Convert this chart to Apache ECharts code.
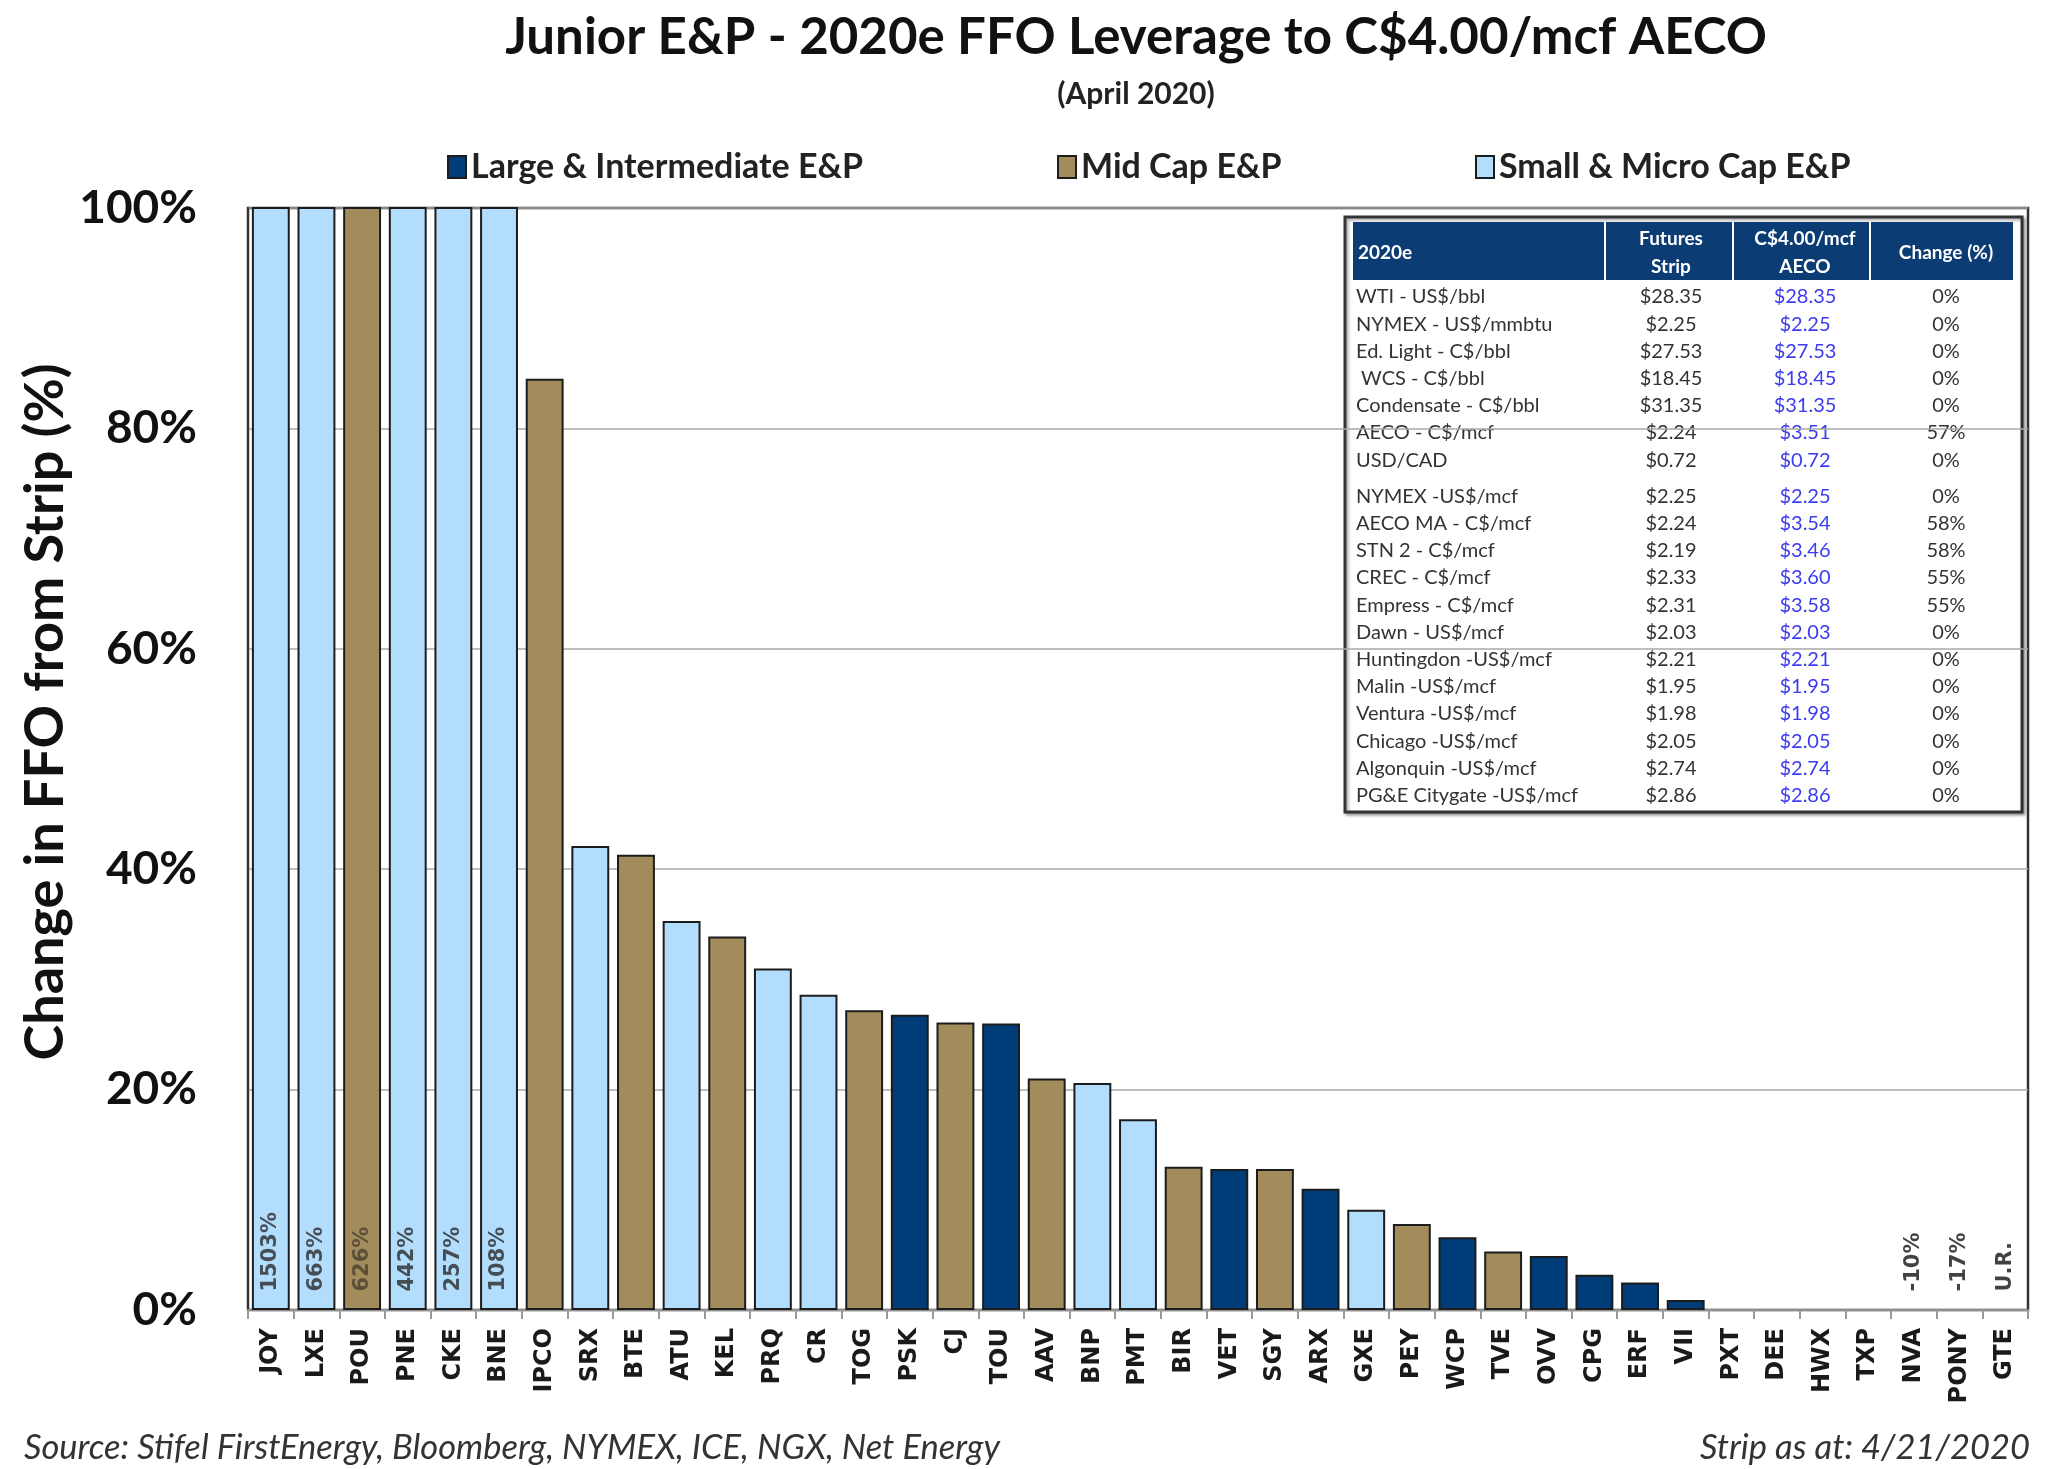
<!DOCTYPE html>
<html><head><meta charset="utf-8">
<script src="https://cdn.jsdelivr.net/npm/echarts@6/dist/echarts.min.js"></script>
<style>html,body{margin:0;padding:0;background:#fff}#c{width:2048px;height:1469px}</style>
</head><body><div id="c"></div>
<script>
// ---------- data ----------
const categories = ['JOY','LXE','POU','PNE','CKE','BNE','IPCO','SRX','BTE','ATU','KEL','PRQ','CR','TOG','PSK','CJ','TOU','AAV','BNP','PMT','BIR','VET','SGY','ARX','GXE','PEY','WCP','TVE','OVV','CPG','ERF','VII','PXT','DEE','HWX','TXP','NVA','PONY','GTE'];
const ffoChange = [1503,663,626,442,257,108,84.5,42.1,41.3,35.3,33.9,31.0,28.6,27.2,26.8,26.1,26.0,21.0,20.6,17.3,13.0,12.8,12.8,11.0,9.1,7.8,6.6,5.3,4.9,3.2,2.5,0.9,0,0,0,0,-10,-17,null];
const capGroup = ['S','S','M','S','S','S','M','S','M','S','M','S','S','M','L','M','L','M','S','S','M','L','M','L','S','M','L','M','L','L','L','L',null,null,null,null,null,null,null];
const groupKeys = ['L','M','S'];
const groupNames = {L:'Large & Intermediate E&P', M:'Mid Cap E&P', S:'Small & Micro Cap E&P'};
const yMin = 0, yMax = 100, yInterval = 20;

const tableHeader = ['2020e','Futures\nStrip','C$4.00/mcf\nAECO','Change (%)'];
const tableLabels = ['WTI - US$/bbl','NYMEX - US$/mmbtu','Ed. Light - C$/bbl',' WCS - C$/bbl','Condensate - C$/bbl','AECO - C$/mcf','USD/CAD','NYMEX -US$/mcf','AECO MA - C$/mcf','STN 2 - C$/mcf','CREC - C$/mcf','Empress - C$/mcf','Dawn - US$/mcf','Huntingdon -US$/mcf','Malin -US$/mcf','Ventura -US$/mcf','Chicago -US$/mcf','Algonquin -US$/mcf','PG&E Citygate -US$/mcf'];
const tableStrip = ['$28.35','$2.25','$27.53','$18.45','$31.35','$2.24','$0.72','$2.25','$2.24','$2.19','$2.33','$2.31','$2.03','$2.21','$1.95','$1.98','$2.05','$2.74','$2.86'];
const tableAeco = ['$28.35','$2.25','$27.53','$18.45','$31.35','$3.51','$0.72','$2.25','$3.54','$3.46','$3.60','$3.58','$2.03','$2.21','$1.95','$1.98','$2.05','$2.74','$2.86'];
const tableChange = ['0%','0%','0%','0%','0%','57%','0%','0%','58%','58%','55%','55%','0%','0%','0%','0%','0%','0%','0%'];

const titleText = 'Junior E&P - 2020e FFO Leverage to C$4.00/mcf AECO';
const subtitleText = '(April 2020)';
const yAxisTitle = 'Change in FFO from Strip (%)';
const sourceText = 'Source: Stifel FirstEnergy, Bloomberg, NYMEX, ICE, NGX, Net Energy';
const stripText = 'Strip as at: 4/21/2020';

// ---------- styles ----------
const groupColors = {L:'#003d78', M:'#a38c5c', S:'#b3ddfd'};
const groupLabelColors = {L:'#ffffff', M:'#4a4030', S:'#2a2a2a'};
const sans = 'Lato';

const barSeries = groupKeys.map(g => ({
  name: groupNames[g], type: 'bar', barGap: '-100%', barCategoryGap: '17%',
  clip: true,
  data: ffoChange.map((v, i) => capGroup[i] === g ? v : '-'),
  itemStyle: {color: groupColors[g], borderColor: '#1c1c1c', borderWidth: 2},
  emphasis: {disabled: true}
}));

const noteData = [];
ffoChange.forEach((v, i) => {
  if (v === null || v > yMax || v < yMin) {
    noteData.push({value: [i, 0], label: {color: capGroup[i] ? groupLabelColors[capGroup[i]] : '#111'}});
  }
});
const noteSeries = {
  type: 'scatter', symbolSize: 1, clip: false, z: 5,
  itemStyle: {color: 'rgba(0,0,0,0)'},
  data: noteData,
  label: {
    show: true, position: 'top', distance: 18, rotate: 90, align: 'left', verticalAlign: 'middle',
    fontFamily: 'DejaVu Sans', fontWeight: 'bold', fontSize: 21,
    formatter: p => { const v = ffoChange[p.value[0]]; return v === null ? 'U.R.' : v + '%'; }
  },
  emphasis: {disabled: true}, silent: true
};

// table graphic
const tX = 1345, tY = 217, tW = 677, tH = 595;
const colSep = [1605, 1733, 1870];
const colCenter = [null, 1671, 1805, 1946];
const tableEls = [
  {type: 'rect', shape: {x: tX, y: tY, width: tW, height: tH}, style: {fill: '#fff', stroke: '#333', lineWidth: 3, shadowBlur: 3, shadowColor: 'rgba(0,0,0,0.35)', shadowOffsetX: 2, shadowOffsetY: 2}},
  {type: 'rect', shape: {x: 1353, y: 222, width: 660, height: 58}, style: {fill: '#0b3d74'}}
];
colSep.forEach(x => tableEls.push({type: 'line', shape: {x1: x, y1: 222, x2: x, y2: 280}, style: {stroke: '#ffffff', lineWidth: 2}}));
tableEls.push({type: 'text', x: 1358, y: 253, style: {text: tableHeader[0], fill: '#fff', fontFamily: sans, fontWeight: 'bold', fontSize: 19, align: 'left', verticalAlign: 'middle'}});
[1, 2, 3].forEach(c => tableEls.push({type: 'text', x: colCenter[c], y: 253, style: {text: tableHeader[c], fill: '#fff', fontFamily: sans, fontWeight: 'bold', fontSize: 19, lineHeight: 28, align: 'center', verticalAlign: 'middle'}}));
tableLabels.forEach((lab, i) => {
  const y = 297 + i * 27.2 + (i >= 7 ? 9 : 0);
  const base = {fontFamily: sans, fontSize: 20, verticalAlign: 'middle'};
  tableEls.push({type: 'text', x: 1356, y, style: Object.assign({text: lab, fill: '#333', align: 'left'}, base)});
  tableEls.push({type: 'text', x: colCenter[1], y, style: Object.assign({text: tableStrip[i], fill: '#333', align: 'center'}, base)});
  tableEls.push({type: 'text', x: colCenter[2], y, style: Object.assign({text: tableAeco[i], fill: '#3b3bf2', align: 'center'}, base)});
  tableEls.push({type: 'text', x: colCenter[3], y, style: Object.assign({text: tableChange[i], fill: '#333', align: 'center'}, base)});
});

const legendBase = {orient: 'horizontal', top: 150, padding: 0, itemWidth: 18, itemHeight: 22, itemGap: 10,
  icon: 'rect', textStyle: {fontFamily: sans, fontWeight: 'bold', fontSize: 34, color: '#222'}, selectedMode: false};

const option = {
  animation: false,
  backgroundColor: '#fff',
  grid: {left: 248, right: 20, top: 208, bottom: 159, show: true, borderColor: '#333', borderWidth: 2.5, containLabel: false},
  legend: [
    Object.assign({left: 447, data: [groupNames.L]}, legendBase),
    Object.assign({left: 1057, data: [groupNames.M]}, legendBase),
    Object.assign({left: 1475, data: [groupNames.S]}, legendBase)
  ],
  xAxis: {
    type: 'category', data: categories,
    axisLine: {show: true, lineStyle: {color: '#8f8f8f', width: 2}},
    axisTick: {show: true, alignWithLabel: false, length: 9, lineStyle: {color: '#9a9a9a', width: 2}},
    axisLabel: {interval: 0, rotate: 90, margin: 18, fontFamily: 'DejaVu Sans', fontWeight: 'bold', fontSize: 24, color: '#1a1a1a'},
    splitLine: {show: false}
  },
  yAxis: {
    type: 'value', min: yMin, max: yMax, interval: yInterval,
    axisLine: {show: true, lineStyle: {color: '#333', width: 2}},
    axisTick: {show: false},
    axisLabel: {formatter: '{value}%', fontFamily: sans, fontWeight: 'bold', fontSize: 46, color: '#111', margin: 51},
    splitLine: {show: true, lineStyle: {color: '#a8a8a8', width: 1.5}}
  },
  series: barSeries.concat([noteSeries]),
  graphic: [
    {type: 'text', x: 1136, y: 38, z: 10, style: {text: titleText, fontFamily: sans, fontWeight: 'bold', fontSize: 51, fill: '#111', align: 'center', verticalAlign: 'middle'}},
    {type: 'text', x: 1136, y: 94, z: 10, style: {text: subtitleText, fontFamily: sans, fontWeight: 'bold', fontSize: 30, fill: '#222', align: 'center', verticalAlign: 'middle'}},
    {type: 'text', x: 46, y: 712, rotation: Math.PI / 2, z: 10, style: {text: yAxisTitle, fontFamily: sans, fontWeight: 'bold', fontSize: 54, fill: '#111', align: 'center', verticalAlign: 'middle'}},
    {type: 'text', x: 24, y: 1448, z: 10, style: {text: sourceText, fontFamily: sans, fontStyle: 'italic', fontSize: 34.5, fill: '#333', align: 'left', verticalAlign: 'middle'}},
    {type: 'text', x: 2030, y: 1448, z: 10, style: {text: stripText, fontFamily: sans, fontStyle: 'italic', fontSize: 34.5, fill: '#333', align: 'right', verticalAlign: 'middle'}},
    {type: 'group', z: 100, children: tableEls}
  ]
};
const chart = echarts.init(document.getElementById('c'), null, {renderer: 'canvas'});
chart.setOption(option);
</script></body></html>
